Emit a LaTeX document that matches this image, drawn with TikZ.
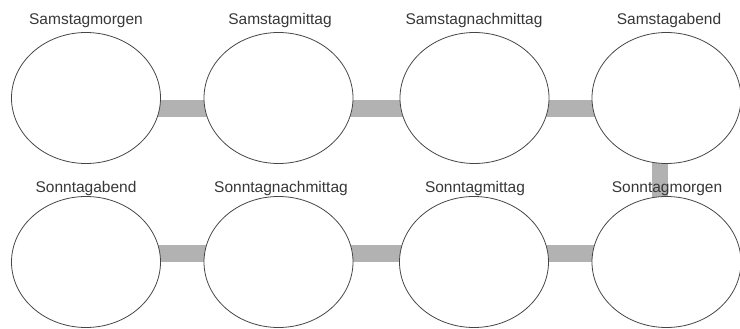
\documentclass[tikz,border=0pt]{standalone}
\usepackage{fontspec}
\setmainfont{Liberation Sans}
\usetikzlibrary{shapes.geometric,backgrounds}
\definecolor{barc}{RGB}{178,178,178}
\definecolor{linec}{RGB}{70,70,70}
\definecolor{txtc}{RGB}{55,55,55}
\begin{document}
\begin{tikzpicture}[x=1pt,y=-1pt,
  slot/.style={ellipse,draw=linec,line width=0.8pt,fill=white,minimum width=149pt,minimum height=131pt,inner sep=0pt},
  bar/.style={draw=barc,line width=17pt},
  vbar/.style={draw=barc,line width=16pt},
  lab/.style={anchor=base,text=txtc,font=\fontsize{15.5}{18}\selectfont,inner sep=0pt}]
\useasboundingbox (0,0) rectangle (740,329);
% top row
\node[slot] (a1) at (86,98) {};
\node[slot] (a2) at (278.5,98) {};
\node[slot] (a3) at (474.5,98) {};
\node[slot] (a4) at (666.5,98) {};
% bottom row
\node[slot] (b1) at (86,262) {};
\node[slot] (b2) at (278.5,262) {};
\node[slot] (b3) at (474,262) {};
\node[slot] (b4) at (666.5,262) {};
\begin{scope}[on background layer]
\draw[bar] ([yshift=-10.5pt]a1.center) -- ([yshift=-10.5pt]a2.center);
\draw[bar] ([yshift=-10.5pt]a2.center) -- ([yshift=-10.5pt]a3.center);
\draw[bar] ([yshift=-10.5pt]a3.center) -- ([yshift=-10.5pt]a4.center);
\draw[vbar] ([xshift=-7pt]a4.center) -- ([xshift=-7pt]b4.center);
\draw[bar] ([yshift=9pt]b1.center) -- ([yshift=9pt]b2.center);
\draw[bar] ([yshift=9pt]b2.center) -- ([yshift=9pt]b3.center);
\draw[bar] ([yshift=9pt]b3.center) -- ([yshift=9pt]b4.center);
\end{scope}
% labels
\node[lab] (la1) at (86,25) {Samstagmorgen};
\node[lab] (la2) at (280,25) {Samstagmittag};
\node[lab] (la3) at (474,25) {Samstagnachmittag};
\node[lab] (la4) at (669,25) {Samstagabend};
\node[lab] (lb1) at (86,192) {Sonntagabend};
\node[lab] (lb2) at (281,192) {Sonntagnachmittag};
\node[lab] (lb3) at (475,192) {Sonntagmittag};
\node[lab] (lb4) at (667,192) {Sonntagmorgen};
\end{tikzpicture}
\end{document}
